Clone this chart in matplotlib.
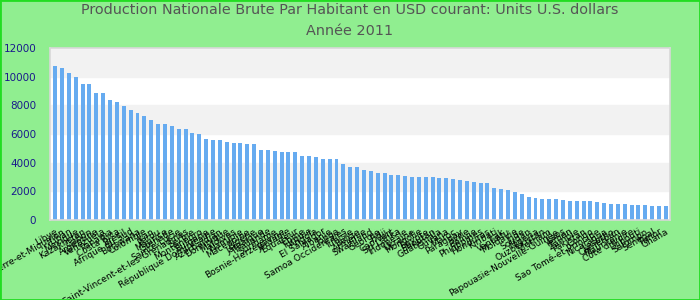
import matplotlib
matplotlib.use("Agg")
import matplotlib.pyplot as plt
from matplotlib.patches import Rectangle

title = "Production Nationale Brute Par Habitant en USD courant: Units U.S. dollars\nAnnée 2011"

pays = [
    "Libye", "Saint-Pierre-et-Miquelon", "Liban", "Mexique", "Kazakhstan",
    "Gabon", "Argentine", "Venezuela", "Panama", "Costa Rica",
    "Brésil", "Afrique du Sud", "Botswana", "Colombie", "Iran",
    "Pérou", "Maurice", "Grenade", "Sainte-Lucie", "Saint-Vincent-et-les-Grenadines",
    "Serbie", "Monténégro", "Bulgarie", "République Dominicaine", "Azerbaïdjan",
    "Dominique", "Maldives", "Namibie", "Macédoine", "Algérie",
    "Jamaïque", "Thaïlande", "Suriname", "Bosnie-Herzégovine", "Jordanie",
    "Equateur", "Chine", "Turquie", "Angola", "El Salvador",
    "Albanie", "Tonga", "Samoa Occidentales", "Tunisie", "Belize",
    "Arménie", "Swaziland", "Géorgie", "Fidji", "Cap-Vert",
    "Sri Lanka", "Indonésie", "Ukraine", "Mongolie", "Egypte",
    "Bhoutan", "Guatemala", "Guyana", "Maroc", "Paraguay",
    "Syrie", "Bolivie", "Philippines", "Honduras", "Kiribati",
    "Irak", "Vanuatu", "Moldavie", "Inde", "Soudan",
    "Nigeria", "Ouzbékistan", "Vietnam", "Papouasie-Nouvelle-Guinée", "Laos",
    "Yémen", "Zambie", "Pakistan", "Congo", "Sao Tomé-et-Principe",
    "Nicaragua", "Lesotho", "Cameroun", "Mauritanie", "Côte d'Ivoire",
    "Djibouti", "Salomon", "Sénégal", "Timor", "Ghana",
]

pnb = [
    10765, 10625, 10276, 9996, 9507, 9507, 8878, 8878, 8388, 8249,
    7969, 7689, 7480, 7270, 6990, 6711, 6711, 6571, 6361, 6361,
    6082, 6012, 5662, 5592, 5592, 5452, 5383, 5383, 5313, 5313,
    4893, 4893, 4823, 4753, 4753, 4753, 4474, 4474, 4404, 4264,
    4264, 4264, 3915, 3705, 3705, 3495, 3425, 3285, 3285, 3146,
    3146, 3076, 3006, 3006, 3006, 3006, 2936, 2936, 2866, 2796,
    2726, 2656, 2586, 2586, 2237, 2167, 2097, 1957, 1817, 1608,
    1538, 1468, 1468, 1468, 1398, 1328, 1328, 1328, 1328, 1258,
    1188, 1118, 1118, 1118, 1049, 1049, 1049, 979, 979, 979,
]

yticks = [0, 2000, 4000, 6000, 8000, 10000, 12000]

fig = plt.figure(figsize=(7, 3), dpi=100, facecolor="#90ee90")
fig.patches.append(Rectangle((0, 0), 1, 1, transform=fig.transFigure,
                             fill=False, edgecolor="#22dd22", linewidth=2))

ax = fig.add_axes([50 / 700, 80 / 300, 620 / 700, 172 / 300])
ax.set_facecolor("white")

# bandes alternées
for i in range(len(yticks) - 1):
    if i % 2 == 1:
        ax.axhspan(yticks[i], yticks[i + 1], color="#f2f2f2", zorder=0)

x = range(len(pnb))
ax.bar(x, pnb, width=0.58, color="#66abf0", zorder=2)

ax.set_xlim(-0.75, len(pnb) - 0.4)
ax.set_ylim(0, 12000)
ax.set_yticks(yticks)
ax.tick_params(axis="y", length=0, labelsize=7.5, labelcolor="#1a1a8c", pad=10)
ax.set_xticks(list(x))
ax.set_xticklabels(pays, rotation=30, ha="right", rotation_mode="anchor", fontsize=6.5)
ax.tick_params(axis="x", length=0, pad=5)

for s in ax.spines.values():
    s.set_color("#d8d8d8")
    s.set_linewidth(1.2)

fig.suptitle(title, y=0.99, fontsize=10.4, color="#555555", linespacing=1.6)

fig.savefig("out.png", dpi=100, facecolor=fig.get_facecolor())
